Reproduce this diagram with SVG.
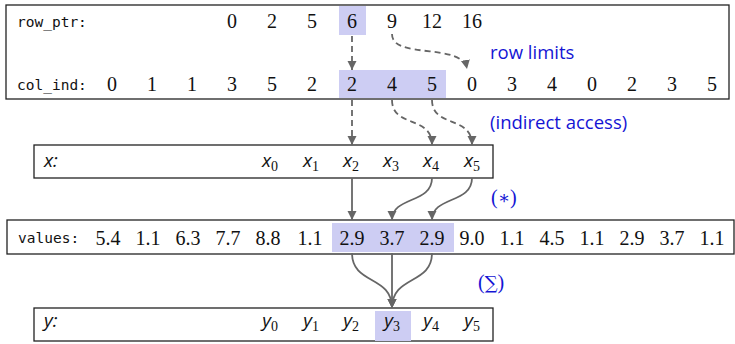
<svg xmlns="http://www.w3.org/2000/svg" width="735" height="344" viewBox="0 0 735 344">
<style>
.box{fill:#fff;stroke:#222;stroke-width:1.3}
.hl{fill:#cdcdf3}
.mono{font-family:"DejaVu Sans Mono",monospace;font-size:14.5px;fill:#111}
.num{font-family:"Liberation Serif","Times New Roman",serif;font-size:20px;fill:#111;text-anchor:middle}
.var{font-family:"Open Sans","DejaVu Sans",sans-serif;font-style:italic;font-size:19px;fill:#111}
.sub{font-family:"Liberation Serif",serif;font-style:normal;font-size:14px}
.note{font-family:"Open Sans","DejaVu Sans",sans-serif;font-size:18.5px;fill:#1414d4}
.noteS{font-family:"Liberation Serif","DejaVu Serif",serif;font-size:20px;fill:#1414d4}
.op{font-family:"DejaVu Serif",serif;font-size:18px}
.dash{fill:none;stroke:#666;stroke-width:1.8;stroke-dasharray:6 4;marker-end:url(#ah)}
.solid{fill:none;stroke:#666;stroke-width:1.8;marker-end:url(#ah)}
</style>
<defs>
<marker id="ah" markerUnits="userSpaceOnUse" markerWidth="10" markerHeight="10" refX="9" refY="4.5" orient="auto">
<path d="M0,0 L9,4.5 L0,9 z" fill="#666"/>
</marker>
</defs>

<g id="csr">
<rect class="box" x="6" y="5" width="723" height="94"/>
<rect class="hl" x="339" y="6" width="27" height="29"/>
<rect class="hl" x="339" y="70" width="107" height="28"/>
<text class="mono" x="17" y="27">row_ptr:</text>
<text class="mono" x="17" y="90">col_ind:</text>
<g class="num">
<text x="232" y="28">0</text><text x="272" y="28">2</text><text x="312" y="28">5</text><text x="352" y="28">6</text><text x="392" y="28">9</text><text x="432" y="28">12</text><text x="472" y="28">16</text>
<text x="112" y="91">0</text><text x="152" y="91">1</text><text x="192" y="91">1</text><text x="232" y="91">3</text><text x="272" y="91">5</text><text x="312" y="91">2</text><text x="352" y="91">2</text><text x="392" y="91">4</text><text x="432" y="91">5</text><text x="472" y="91">0</text><text x="512" y="91">3</text><text x="552" y="91">4</text><text x="592" y="91">0</text><text x="632" y="91">2</text><text x="672" y="91">3</text><text x="712" y="91">5</text>
</g>
</g>

<g id="x">
<rect class="box" x="34" y="145" width="459" height="33"/>
<text class="var" x="44" y="167">x:</text>
<text class="var" x="270" y="167" text-anchor="middle">x<tspan class="sub" dy="4">0</tspan></text>
<text class="var" x="311" y="167" text-anchor="middle">x<tspan class="sub" dy="4">1</tspan></text>
<text class="var" x="351" y="167" text-anchor="middle">x<tspan class="sub" dy="4">2</tspan></text>
<text class="var" x="391" y="167" text-anchor="middle">x<tspan class="sub" dy="4">3</tspan></text>
<text class="var" x="431" y="167" text-anchor="middle">x<tspan class="sub" dy="4">4</tspan></text>
<text class="var" x="472" y="167" text-anchor="middle">x<tspan class="sub" dy="4">5</tspan></text>
</g>

<g id="values">
<rect class="box" x="7" y="220" width="727" height="34"/>
<rect class="hl" x="332" y="223" width="122" height="29"/>
<text class="mono" x="18" y="243">values:</text>
<g class="num">
<text x="108" y="245">5.4</text><text x="148" y="245">1.1</text><text x="188" y="245">6.3</text><text x="228" y="245">7.7</text><text x="268" y="245">8.8</text><text x="310" y="245">1.1</text><text x="352" y="245">2.9</text><text x="392" y="245">3.7</text><text x="432" y="245">2.9</text><text x="472" y="245">9.0</text><text x="512" y="245">1.1</text><text x="552" y="245">4.5</text><text x="592" y="245">1.1</text><text x="632" y="245">2.9</text><text x="672" y="245">3.7</text><text x="712" y="245">1.1</text>
</g>
</g>

<g id="y">
<rect class="box" x="34" y="308" width="459" height="33"/>
<rect class="hl" x="375" y="311" width="36" height="30"/>
<text class="var" x="44" y="327">y:</text>
<text class="var" x="270" y="327" text-anchor="middle">y<tspan class="sub" dy="4">0</tspan></text>
<text class="var" x="311" y="327" text-anchor="middle">y<tspan class="sub" dy="4">1</tspan></text>
<text class="var" x="351" y="327" text-anchor="middle">y<tspan class="sub" dy="4">2</tspan></text>
<text class="var" x="392" y="327" text-anchor="middle">y<tspan class="sub" dy="4">3</tspan></text>
<text class="var" x="431" y="327" text-anchor="middle">y<tspan class="sub" dy="4">4</tspan></text>
<text class="var" x="472" y="327" text-anchor="middle">y<tspan class="sub" dy="4">5</tspan></text>
</g>

<g id="labels">
<text class="note" x="490" y="59">row limits</text>
<text class="note" x="490" y="129">(indirect access)</text>
<text class="noteS" x="491" y="204">(<tspan class="op">∗</tspan>)</text>
<text class="noteS" x="478" y="289">(<tspan class="op">∑</tspan>)</text>
</g>

<g id="connectors">
<path class="dash" d="M352,36 L352,70"/>
<path class="dash" d="M392,34 C392,60 462,42 467,69"/>
<path class="dash" d="M352,100 L352,145"/>
<path class="dash" d="M392,100 C392,128 432,115 432,145"/>
<path class="dash" d="M432,100 C432,128 472,115 472,145"/>
<path class="solid" d="M352,178 L352,220"/>
<path class="solid" d="M432,178 C432,204 392,196 392,220"/>
<path class="solid" d="M472,178 C472,204 432,196 432,220"/>
<path class="solid" d="M352,253 C352,285 392,275 392,308"/>
<path class="solid" d="M392,253 L392,308"/>
<path class="solid" d="M432,253 C432,285 392,275 392,308"/>
</g>
</svg>
